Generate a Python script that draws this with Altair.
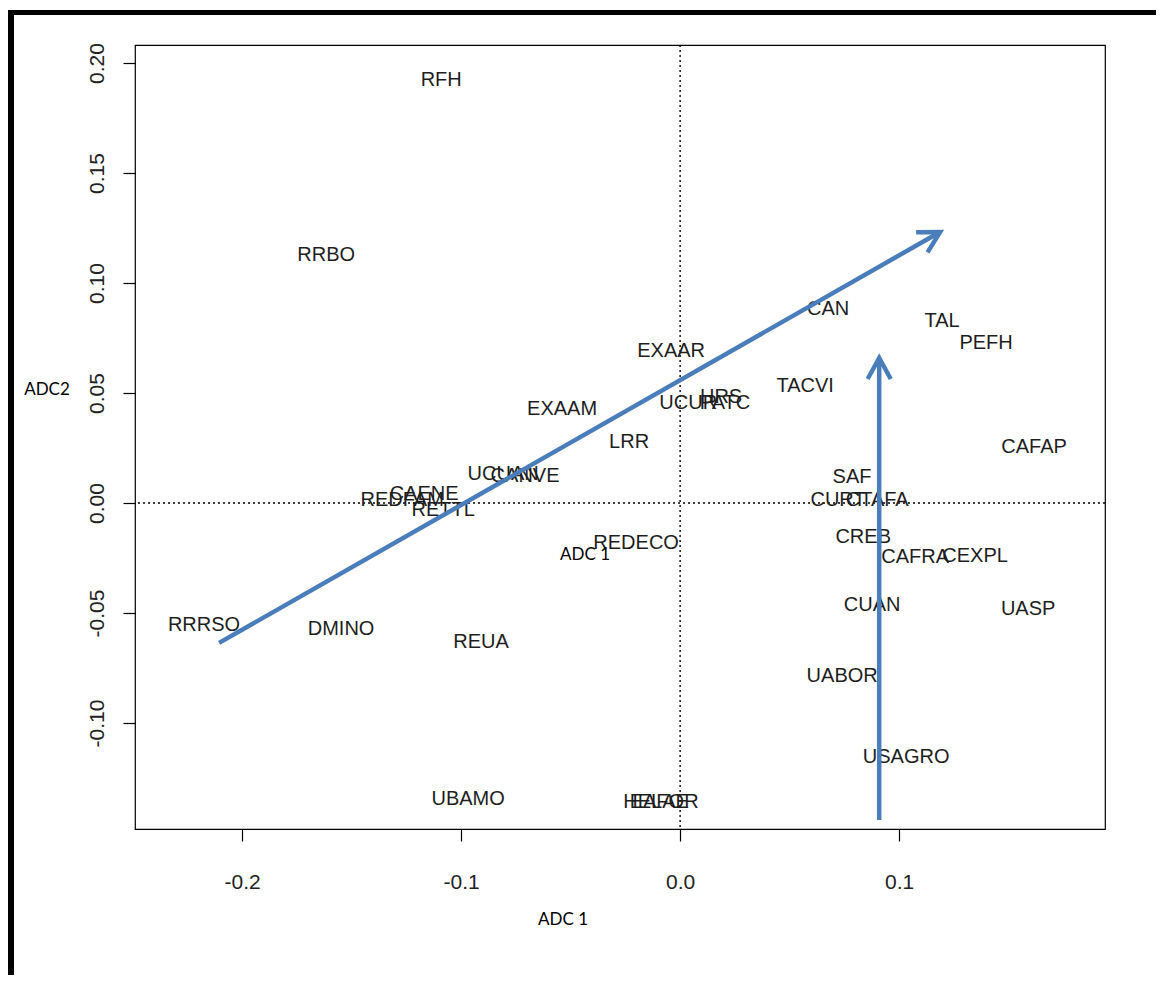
import math
import altair as alt
import pandas as pd

# ---- data ----
labels = ["RFH", "RRBO", "CAN", "TAL", "PEFH", "EXAAR", "TACVI", "HRS", "UCUR", "PATC",
          "EXAAM", "LRR", "CAFAP", "SAF", "UCUAN", "CANVE", "CAENE", "REDFAM", "RETTL",
          "CURT", "CTAFA", "REDECO", "CREB", "CAFRA", "CEXPL", "CUAN", "UASP", "RRRSO",
          "DMINO", "REUA", "UABOR", "USAGRO", "UBAMO", "HELAE", "EAFOR"]
lab_x = [-0.1091, -0.1616, 0.0676, 0.1196, 0.1397, -0.0041, 0.0571, 0.0187, 0.0037, 0.0205,
         -0.0539, -0.0233, 0.1616, 0.0785, -0.0808, -0.0708, -0.1169, -0.1269, -0.1082,
         0.0721, 0.0900, -0.0201, 0.0836, 0.1073, 0.1347, 0.0877, 0.1589, -0.2174,
         -0.1548, -0.0909, 0.0740, 0.1032, -0.0968, -0.0110, -0.0073]
lab_y = [0.1923, 0.1127, 0.0882, 0.0827, 0.0727, 0.0691, 0.0532, 0.0482, 0.0455, 0.0455,
         0.0427, 0.0277, 0.0255, 0.0118, 0.0132, 0.0123, 0.0041, 0.0014, -0.0032,
         0.0014, 0.0014, -0.0182, -0.0155, -0.0245, -0.0241, -0.0464, -0.0482, -0.0555,
         -0.0573, -0.0632, -0.0786, -0.1155, -0.1345, -0.1359, -0.1359]

x_ticks = [-0.2, -0.1, 0.0, 0.1]
y_ticks = [-0.10, -0.05, 0.0, 0.05, 0.10, 0.15, 0.20]
x_domain = [-0.2489, 0.1940]
y_domain = [-0.1482, 0.2082]

arrow_ids = ["a", "a", "b", "b"]
arrow_x = [-0.2105, 0.1187, 0.0909, 0.0909]
arrow_y = [-0.0636, 0.1232, -0.1441, 0.0659]
arrow_step = [0, 1, 0, 1]

W, H = 970, 784
BLUE = "#4a7ebb"

labels_df = pd.DataFrame({"label": labels, "x": lab_x, "y": lab_y})
arrows_df = pd.DataFrame({"id": arrow_ids, "x": arrow_x, "y": arrow_y, "step": arrow_step})

# arrow head direction (pixel space), derived from the arrow endpoints
heads = []
for aid in ["a", "b"]:
    sub = arrows_df[arrows_df.id == aid].sort_values("step")
    x0, x1 = sub.x.iloc[0], sub.x.iloc[1]
    y0, y1 = sub.y.iloc[0], sub.y.iloc[1]
    dxp = (x1 - x0) / (x_domain[1] - x_domain[0]) * W
    dyp = (y1 - y0) / (y_domain[1] - y_domain[0]) * H
    heads.append({"x": x1, "y": y1, "ang": math.degrees(math.atan2(dxp, dyp))})
heads_df = pd.DataFrame(heads)

xs = alt.Scale(domain=x_domain, nice=False, zero=False)
ys = alt.Scale(domain=y_domain, nice=False, zero=False)
x_axis = alt.Axis(values=x_ticks, format=".1f", title=None, tickSize=12, labelPadding=30,
                  labelExpr="replace(format(datum.value, '.1f'), '\u2212', '-')")
y_axis = alt.Axis(values=y_ticks, title=None, tickSize=12, labelPadding=20, labelAngle=270,
                  labelAlign="center", labelBaseline="alphabetic",
                  labelExpr="replace(format(datum.value, '.2f'), '\u2212', '-')")
X = alt.X("x:Q", scale=xs, axis=x_axis)
Y = alt.Y("y:Q", scale=ys, axis=y_axis)

zero_df = pd.DataFrame({"x": [0.0], "y": [0.0]})
vline = alt.Chart(zero_df).mark_rule(color="black", strokeDash=[2, 3], strokeWidth=1.4).encode(x=X)
hline = alt.Chart(zero_df).mark_rule(color="black", strokeDash=[2, 3], strokeWidth=1.4).encode(y=Y)

texts = alt.Chart(labels_df).mark_text(
    font="Liberation Sans", fontSize=20, color="#1e1e1e", baseline="middle", align="center"
).encode(x=X, y=Y, text="label:N")

lines = alt.Chart(arrows_df).mark_line(color=BLUE, strokeWidth=4.5).encode(
    x=X, y=Y, detail="id:N", order="step:Q")

heads_layer = alt.Chart(heads_df).mark_point(
    shape="M-0.55,1L0,0L0.55,1", filled=False, size=1764, strokeWidth=4.5,
    color=BLUE, opacity=1, strokeCap="butt", strokeJoin="miter"
).encode(x=X, y=Y, angle=alt.Angle("ang:Q", scale=None))

ann_df = pd.DataFrame({"t": ["ADC2"]})
ann1 = alt.Chart(ann_df).mark_text(font="Lato", fontSize=17, color="black").encode(
    x=alt.value(-88), y=alt.value(345), text=alt.value("ADC2"))
ann2 = alt.Chart(ann_df).mark_text(font="Lato", fontSize=17, color="black").encode(
    x=alt.value(450), y=alt.value(510), text=alt.value("ADC 1"))
ann3 = alt.Chart(ann_df).mark_text(font="Lato", fontSize=17, color="black").encode(
    x=alt.value(428), y=alt.value(875), text=alt.value("ADC 1"))

frame_left = alt.Chart(ann_df).mark_rule(color="black", strokeWidth=6).encode(
    x=alt.value(-124), y=alt.value(-35), y2=alt.value(935))
frame_top = alt.Chart(ann_df).mark_rule(color="black", strokeWidth=5).encode(
    x=alt.value(-127), x2=alt.value(1030), y=alt.value(-32.5))

chart = alt.layer(
    vline, hline, texts, lines, heads_layer, ann1, ann2, ann3, frame_left, frame_top
).properties(
    width=W, height=H,
    autosize=alt.AutoSizeParams(type="none"),
    padding={"left": 127, "top": 37, "right": 51, "bottom": 146},
    background="white",
).configure_view(
    stroke="black", strokeWidth=1.2
).configure_axis(
    grid=False, domain=False, tickColor="black", tickWidth=1.2,
    labelColor="#222222", labelFont="Liberation Sans", labelFontSize=21
)

chart.save("out.html", embed_options={"renderer": "svg", "actions": False})
